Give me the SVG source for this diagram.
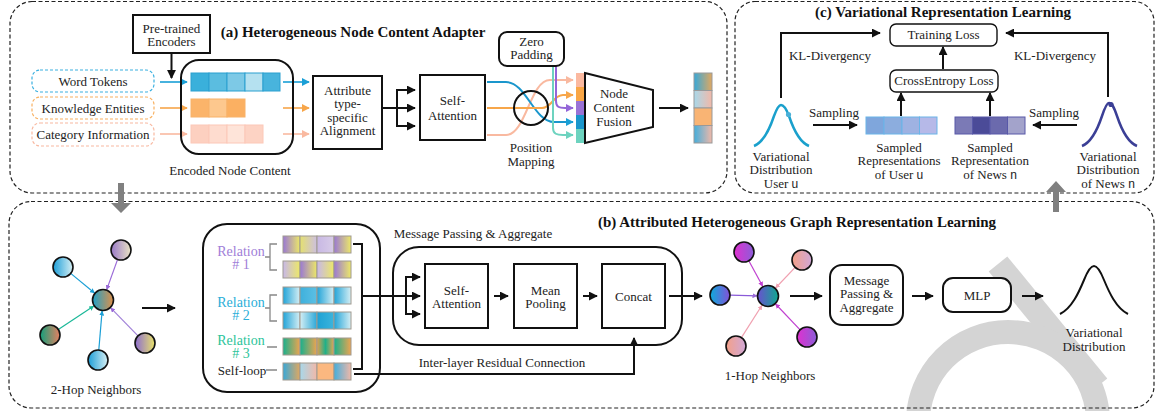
<svg xmlns="http://www.w3.org/2000/svg" width="1156" height="411" viewBox="0 0 1156 411">
<style>
.t{font-family:"Liberation Serif","Times New Roman",serif;font-size:13px;fill:#222;text-anchor:middle}
.tb{font-family:"Liberation Serif","Times New Roman",serif;font-size:15px;font-weight:bold;fill:#111;text-anchor:middle}
.m{font-family:"Liberation Sans",Arial,sans-serif;font-size:12px}
.panel{fill:none;stroke:#222;stroke-width:1.2;stroke-dasharray:4 2.5}
.box{fill:#fff;stroke:#111;stroke-width:2}
.ln{fill:none;stroke:#111;stroke-width:2}
.arr{fill:none;stroke:#111;stroke-width:2;marker-end:url(#mB)}
.cell{stroke:#a09a90;stroke-width:1}
.node{stroke:#111;stroke-width:1.6}
.wm{fill:none;stroke:#d4d4d4}
</style>
<defs>
<marker id="mB" viewBox="0 0 10 10" refX="9" refY="5" markerWidth="9" markerHeight="9" markerUnits="userSpaceOnUse" orient="auto"><path d="M0,0 L10,5 L0,10 z" fill="#111"/></marker>
<marker id="mBlue" viewBox="0 0 10 10" refX="9" refY="5" markerWidth="8" markerHeight="8" markerUnits="userSpaceOnUse" orient="auto"><path d="M0,0 L10,5 L0,10 z" fill="#1a9fd6"/></marker>
<marker id="mOr" viewBox="0 0 10 10" refX="9" refY="5" markerWidth="8" markerHeight="8" markerUnits="userSpaceOnUse" orient="auto"><path d="M0,0 L10,5 L0,10 z" fill="#f7a64a"/></marker>
<marker id="mSal" viewBox="0 0 10 10" refX="9" refY="5" markerWidth="8" markerHeight="8" markerUnits="userSpaceOnUse" orient="auto"><path d="M0,0 L10,5 L0,10 z" fill="#f9b9a0"/></marker>
<marker id="mPur" viewBox="0 0 10 10" refX="9" refY="5" markerWidth="8" markerHeight="8" markerUnits="userSpaceOnUse" orient="auto"><path d="M0,0 L10,5 L0,10 z" fill="#9466d8"/></marker>
<marker id="mTeal" viewBox="0 0 10 10" refX="9" refY="5" markerWidth="8" markerHeight="8" markerUnits="userSpaceOnUse" orient="auto"><path d="M0,0 L10,5 L0,10 z" fill="#6dd3bf"/></marker>
<marker id="sBlue" viewBox="0 0 10 10" refX="9" refY="5" markerWidth="5" markerHeight="5" markerUnits="userSpaceOnUse" orient="auto"><path d="M0,0 L10,5 L0,10 z" fill="#1a9fd6"/></marker>
<marker id="sPur" viewBox="0 0 10 10" refX="9" refY="5" markerWidth="5" markerHeight="5" markerUnits="userSpaceOnUse" orient="auto"><path d="M0,0 L10,5 L0,10 z" fill="#9a6ad8"/></marker>
<marker id="sTeal" viewBox="0 0 10 10" refX="9" refY="5" markerWidth="5" markerHeight="5" markerUnits="userSpaceOnUse" orient="auto"><path d="M0,0 L10,5 L0,10 z" fill="#1ab898"/></marker>
<marker id="sMag" viewBox="0 0 10 10" refX="9" refY="5" markerWidth="5" markerHeight="5" markerUnits="userSpaceOnUse" orient="auto"><path d="M0,0 L10,5 L0,10 z" fill="#c040d0"/></marker>
<marker id="sPink" viewBox="0 0 10 10" refX="9" refY="5" markerWidth="5" markerHeight="5" markerUnits="userSpaceOnUse" orient="auto"><path d="M0,0 L10,5 L0,10 z" fill="#f0a0b0"/></marker>
<linearGradient id="gPY"><stop offset="0" stop-color="#9a78d4"/><stop offset="1" stop-color="#ece868"/></linearGradient>
<linearGradient id="gYL"><stop offset="0" stop-color="#e4e070"/><stop offset="1" stop-color="#cdbfe0"/></linearGradient>
<linearGradient id="gLav"><stop offset="0" stop-color="#c8b8e4"/><stop offset="1" stop-color="#d8cce8"/></linearGradient>
<linearGradient id="gLY"><stop offset="0" stop-color="#c8b8e8"/><stop offset="1" stop-color="#ece868"/></linearGradient>
<linearGradient id="gBL"><stop offset="0" stop-color="#22a4d8"/><stop offset="1" stop-color="#d4eef4"/></linearGradient>
<linearGradient id="gB2"><stop offset="0" stop-color="#3eb0dc"/><stop offset="1" stop-color="#5cc0e4"/></linearGradient>
<linearGradient id="gLB"><stop offset="0" stop-color="#d4eef4"/><stop offset="1" stop-color="#2aa8d8"/></linearGradient>
<linearGradient id="gB3"><stop offset="0" stop-color="#1ea2d4"/><stop offset="1" stop-color="#3cb4dc"/></linearGradient>
<linearGradient id="gGO"><stop offset="0" stop-color="#18b08c"/><stop offset="1" stop-color="#eea450"/></linearGradient>
<linearGradient id="gOG"><stop offset="0" stop-color="#e0a050"/><stop offset="0.5" stop-color="#20b088"/><stop offset="1" stop-color="#e8a452"/></linearGradient>
<linearGradient id="gBO"><stop offset="0" stop-color="#38a8d8"/><stop offset="1" stop-color="#e0a860"/></linearGradient>
<linearGradient id="gLS"><stop offset="0" stop-color="#a8d8ea"/><stop offset="1" stop-color="#f2b8a8"/></linearGradient>
<linearGradient id="gBS"><stop offset="0" stop-color="#44aedc"/><stop offset="1" stop-color="#f0b8a8"/></linearGradient>
<linearGradient id="nBT"><stop offset="0" stop-color="#1c9ed8"/><stop offset="1" stop-color="#d8f0f4"/></linearGradient>
<linearGradient id="nPB"><stop offset="0" stop-color="#9878c8"/><stop offset="1" stop-color="#ebe4c4"/></linearGradient>
<linearGradient id="nGS"><stop offset="0" stop-color="#12a07c"/><stop offset="1" stop-color="#e88060"/></linearGradient>
<linearGradient id="nPY"><stop offset="0" stop-color="#8c6cd0"/><stop offset="1" stop-color="#eae46a"/></linearGradient>
<linearGradient id="nC2"><stop offset="0" stop-color="#1ea0c8"/><stop offset="1" stop-color="#e09048"/></linearGradient>
<linearGradient id="nMP"><stop offset="0" stop-color="#e030d0"/><stop offset="1" stop-color="#8a5ed8"/></linearGradient>
<linearGradient id="nSP"><stop offset="0" stop-color="#f4a088"/><stop offset="1" stop-color="#d0a8d8"/></linearGradient>
<linearGradient id="nBP"><stop offset="0" stop-color="#0cacdc"/><stop offset="1" stop-color="#8450d8"/></linearGradient>
<linearGradient id="nC1"><stop offset="0" stop-color="#6a50d0"/><stop offset="1" stop-color="#0eaa8e"/></linearGradient>
</defs>
<rect width="1156" height="411" fill="#fff"/>

<g id="watermark">
<path class="wm" stroke-width="24" d="M998,264 L1098,386"/>
<circle class="wm" stroke-width="24" cx="1008" cy="422" r="90"/>
</g>

<g id="panels">
<rect class="panel" x="10" y="1.5" width="717" height="191.5" rx="22"/>
<rect class="panel" x="735" y="1.5" width="419" height="191.5" rx="20"/>
<rect class="panel" x="9" y="201.5" width="1145" height="206.5" rx="22"/>
<text class="tb" x="353" y="37">(a) Heterogeneous Node Content Adapter</text>
<text class="tb" x="943" y="17">(c) Variational Representation Learning</text>
<text class="tb" x="797" y="227">(b) Attributed Heterogeneous Graph Representation Learning</text>
<path d="M118,183 H124 V203 H131 L121,213 L111,203 H118 Z" fill="#808080"/>
<path d="M1053,212 H1059 V192 H1066 L1056,181 L1046,192 H1053 Z" fill="#808080"/>
</g>

<g id="connectors">
<path class="arr" d="M171.5,53 V78"/>
<path d="M160,82 H187" stroke="#1a9fd6" stroke-width="1.6" marker-end="url(#mBlue)"/>
<path d="M160,108 H187" stroke="#f7a64a" stroke-width="1.6" marker-end="url(#mOr)"/>
<path d="M160,134 H187" stroke="#f9b9a0" stroke-width="1.6" marker-end="url(#mSal)"/>
<path d="M283,82 H309" stroke="#1a9fd6" stroke-width="1.6" marker-end="url(#mBlue)"/>
<path d="M283,108 H309" stroke="#f7a64a" stroke-width="1.6" marker-end="url(#mOr)"/>
<path d="M283,134 H309" stroke="#f9b9a0" stroke-width="1.6" marker-end="url(#mSal)"/>
<path class="ln" d="M382,108 H397 M397,90 V126"/>
<path class="arr" d="M396,90 H415"/>
<path class="arr" d="M396,108 H415"/>
<path class="arr" d="M396,126 H415"/>
<path d="M487,135 H506 C526,135 530,80 550,80 H573" fill="none" stroke="#f9b9a0" stroke-width="2" marker-end="url(#mSal)"/>
<path d="M487,82 H506 C526,82 534,122 554,122 H573" fill="none" stroke="#1a96cc" stroke-width="2" marker-end="url(#mBlue)"/>
<path d="M487,108 H542 C552,108 553,95 563,95 H573" fill="none" stroke="#f7a64a" stroke-width="2" marker-end="url(#mOr)"/>
<path d="M553,66 V128 C553,134 557,135 563,135 H573" fill="none" stroke="#6dd3bf" stroke-width="2" marker-end="url(#mTeal)"/>
<path d="M556,66 V101 C556,107 559,108 565,108 H573" fill="none" stroke="#9466d8" stroke-width="2" marker-end="url(#mPur)"/>
<circle cx="531" cy="108" r="17" fill="none" stroke="#111" stroke-width="2"/>
<path class="arr" d="M659,108 H688"/>

<path class="ln" d="M781,98 V33 H880" marker-end="url(#mB)"/>
<path class="ln" d="M1108,97 V33 H1006" marker-end="url(#mB)"/>
<path class="arr" d="M943,69 V47"/>
<path class="arr" d="M901,116 V93"/>
<path class="arr" d="M990,116 V93"/>
<path class="arr" d="M813,125 H857"/>
<path class="arr" d="M1077,125 H1033"/>

<path d="M70.7,273.4 L94.5,293" stroke="#1a9fd6" stroke-width="1.2" marker-end="url(#sBlue)"/>
<path d="M117.6,259.4 L106.7,289.6" stroke="#9a6ad8" stroke-width="1.2" marker-end="url(#sPur)"/>
<path d="M58.3,329.5 L93.8,306.1" stroke="#1ab898" stroke-width="1.2" marker-end="url(#sTeal)"/>
<path d="M98.8,350 L102.1,311" stroke="#1a9fd6" stroke-width="1.2" marker-end="url(#sBlue)"/>
<path d="M138,335.8 L110.7,307.9" stroke="#a080d8" stroke-width="1.2" marker-end="url(#sPur)"/>
<path class="arr" d="M142,308 H175"/>
<path d="M277,244 H270 V270 H277 M270,257 H265 M277,295 H270 V321 H277 M270,308 H265 M267,347 H277 M266,370 H277" fill="none" stroke="#888" stroke-width="1.3"/>
<path class="ln" d="M353,244 H362 V369 H353 M362,296 H406 M406,277 V314"/>
<path class="arr" d="M405,277 H420"/>
<path class="arr" d="M405,296 H420"/>
<path class="arr" d="M405,314 H420"/>
<path class="arr" d="M494,296 H508"/>
<path class="arr" d="M583,296 H597"/>
<path class="ln" d="M354,374 H634 V338" marker-end="url(#mB)"/>
<path class="arr" d="M669,296 H702"/>
<path d="M748.8,260.8 L762.7,286.3" stroke="#c040d0" stroke-width="1.2" marker-end="url(#sMag)"/>
<path d="M795.1,267.3 L775.6,288" stroke="#f0a0b0" stroke-width="1.2" marker-end="url(#sPink)"/>
<path d="M730,295.2 L757,295.8" stroke="#8a5ad8" stroke-width="1.2" marker-end="url(#sPur)"/>
<path d="M741.4,337.6 L762,305.3" stroke="#f0a0b0" stroke-width="1.2" marker-end="url(#sPink)"/>
<path d="M800.1,329.8 L775.6,304" stroke="#c040d0" stroke-width="1.2" marker-end="url(#sMag)"/>
<path class="arr" d="M790,296 H822"/>
<path class="arr" d="M912,296 H933"/>
<path class="arr" d="M1022,296 H1043"/>
</g>

<g id="pretrained">
<rect class="box" x="133" y="15" width="77" height="38"/>
<text class="t" x="171.5" y="32.5">Pre-trained</text>
<text class="t" x="171.5" y="45.5">Encoders</text>
</g>
<g id="word-tokens">
<rect x="32" y="70" width="122" height="22" rx="8" fill="#fff" stroke="#3ab0e0" stroke-width="1.2" stroke-dasharray="3 2"/>
<text class="t" x="93" y="85.5">Word Tokens</text>
</g>
<g id="knowledge-entities">
<rect x="32" y="97" width="122" height="22" rx="8" fill="#fff" stroke="#f8b060" stroke-width="1.2" stroke-dasharray="3 2"/>
<text class="t" x="93" y="112.5">Knowledge Entities</text>
</g>
<g id="category-information">
<rect x="32" y="123" width="122" height="23" rx="8" fill="#fff" stroke="#f8b8a0" stroke-width="1.2" stroke-dasharray="3 2"/>
<text class="t" x="93" y="138.5">Category Information</text>
</g>
<g id="encoded-node-content">
<rect class="ln" x="181" y="60" width="112" height="94" rx="18"/>
<g stroke="#2aa0d0" stroke-width="1">
<rect x="191" y="73" width="18" height="18" fill="#3ab0db"/>
<rect x="209" y="73" width="18" height="18" fill="#5bbde0"/>
<rect x="227" y="73" width="18" height="18" fill="#7dc9e6"/>
<rect x="245" y="73" width="18" height="18" fill="#b5e1f0"/>
<rect x="263" y="73" width="17" height="18" fill="#48b4dd"/>
</g>
<g stroke="#f8b268" stroke-width="1">
<rect x="191" y="99" width="18" height="18" fill="#fbb46a"/>
<rect x="209" y="99" width="18" height="18" fill="#fdc88e"/>
<rect x="227" y="99" width="18" height="18" fill="#fbb062"/>
</g>
<g stroke="#fcc8b8" stroke-width="1">
<rect x="191" y="125" width="18" height="18" fill="#fdd0c0"/>
<rect x="209" y="125" width="18" height="18" fill="#fedccf"/>
<rect x="227" y="125" width="18" height="18" fill="#fee4d9"/>
<rect x="245" y="125" width="18" height="18" fill="#fdd3c4"/>
</g>
<text class="t" x="230" y="174.5">Encoded Node Content</text>
</g>
<g id="alignment">
<rect class="box" x="313" y="76" width="69" height="73"/>
<text class="t" x="347.5" y="94.5">Attribute</text>
<text class="t" x="347.5" y="107.5">type-</text>
<text class="t" x="347.5" y="121.5">specific</text>
<text class="t" x="347.5" y="134.5">Alignment</text>
</g>
<g id="self-attention-a">
<rect class="box" x="420" y="75" width="65" height="65"/>
<text class="t" x="452.5" y="104.5">Self-</text>
<text class="t" x="452.5" y="119.5">Attention</text>
</g>
<g id="zero-padding">
<rect class="box" x="499" y="32" width="65" height="34" rx="8"/>
<text class="t" x="531.5" y="45.5">Zero</text>
<text class="t" x="531.5" y="58.5">Padding</text>
</g>
<g id="position-mapping">
<text class="t" x="531" y="151.5">Position</text>
<text class="t" x="531" y="165.5">Mapping</text>
<rect x="576" y="73" width="8" height="14" fill="#fbb9a0"/>
<rect x="576" y="87" width="8" height="14" fill="#f9a645"/>
<rect x="576" y="101" width="8" height="14" fill="#9a72d6"/>
<rect x="576" y="115" width="8" height="14" fill="#1a96cc"/>
<rect x="576" y="129" width="8" height="14" fill="#6dd3bf"/>
</g>
<g id="node-content-fusion">
<path d="M585,73 L653,90 L653,127 L585,143 Z" fill="#fff" stroke="#111" stroke-width="2"/>
<text class="t" x="614" y="97.5">Node</text>
<text class="t" x="614" y="111.5">Content</text>
<text class="t" x="614" y="125.5">Fusion</text>
</g>
<g id="fused-output" stroke="#999" stroke-width="1">
<rect x="694" y="73" width="18" height="17.5" fill="url(#gBO)"/>
<rect x="694" y="90.5" width="18" height="17.5" fill="url(#gLS)"/>
<rect x="694" y="108" width="18" height="17.5" fill="#f9b474"/>
<rect x="694" y="125.5" width="18" height="17.5" fill="url(#gBS)"/>
</g>

<g id="training-loss">
<rect x="890" y="24" width="107" height="22" rx="6" fill="#fff" stroke="#111" stroke-width="1.4"/>
<text class="t" x="943.5" y="39">Training Loss</text>
</g>
<g id="crossentropy-loss">
<rect x="890" y="70" width="108" height="22" rx="6" fill="#fff" stroke="#111" stroke-width="1.4"/>
<text class="t" x="944" y="85">CrossEntropy Loss</text>
</g>
<g id="kl-labels">
<text class="t" x="830" y="59.5">KL-Divergency</text>
<text class="t" x="1055" y="59.5">KL-Divergency</text>
<text class="t" x="834" y="116.5">Sampling</text>
<text class="t" x="1054" y="116.5">Sampling</text>
</g>
<g id="dist-user">
<path d="M754,146 C764,142 770,128 774,116 C777,108 779,105 781,105 C784,105 786,108 789,116 C793,128 799,142 809,146" fill="none" stroke="#1aa0cc" stroke-width="2.5"/>
<circle cx="788.5" cy="114.5" r="2.6" fill="#4ab0d8"/>
<text class="t" x="781" y="160.5">Variational</text>
<text class="t" x="781" y="173.5">Distribution</text>
<text class="t" x="781" y="187.5">User <tspan class="m">u</tspan></text>
</g>
<g id="sampled-user">
<g stroke="#6ab4e8" stroke-width="1">
<rect x="866" y="117" width="18" height="17" fill="#7fa6dc"/>
<rect x="884" y="117" width="18" height="17" fill="#8cadde"/>
<rect x="902" y="117" width="17.5" height="17" fill="#9fb2e2"/>
<rect x="919.5" y="117" width="17.5" height="17" fill="#b6b9e8"/>
</g>
<text class="t" x="899" y="151.5">Sampled</text>
<text class="t" x="899" y="164.5">Representations</text>
<text class="t" x="899" y="178.5">of User <tspan class="m">u</tspan></text>
</g>
<g id="sampled-news">
<g stroke="#5858a8" stroke-width="1">
<rect x="955" y="117" width="17.5" height="17" fill="#7b7ab6"/>
<rect x="972.5" y="117" width="17.5" height="17" fill="#4b4b98"/>
<rect x="990" y="117" width="17.5" height="17" fill="#6b6aad"/>
<rect x="1007.5" y="117" width="17.5" height="17" fill="#a3a3cb"/>
</g>
<text class="t" x="990" y="151.5">Sampled</text>
<text class="t" x="990" y="164.5">Representation</text>
<text class="t" x="990" y="178.5">of News <tspan class="m">n</tspan></text>
</g>
<g id="dist-news">
<path d="M1082,146 C1092,142 1098,128 1102,116 C1105,107 1107,103 1109,103 C1112,103 1114,107 1117,116 C1121,128 1127,142 1137,146" fill="none" stroke="#3b3f96" stroke-width="2.5"/>
<circle cx="1111" cy="104.5" r="2.6" fill="#3b3f96"/>
<text class="t" x="1108" y="160.5">Variational</text>
<text class="t" x="1108" y="173.5">Distribution</text>
<text class="t" x="1108" y="187.5">of News <tspan class="m">n</tspan></text>
</g>

<g id="two-hop">
<circle class="node" cx="63" cy="267" r="10" fill="url(#nBT)"/>
<circle class="node" cx="121" cy="250" r="10" fill="url(#nPB)"/>
<circle class="node" cx="50" cy="335" r="10" fill="url(#nGS)"/>
<circle class="node" cx="98" cy="360" r="10" fill="url(#nBT)"/>
<circle class="node" cx="145" cy="343" r="10" fill="url(#nPY)"/>
<circle class="node" cx="103" cy="300" r="10.5" fill="url(#nC2)"/>
<text class="t" x="96" y="393.5">2-Hop Neighbors</text>
</g>
<g id="relations">
<rect class="ln" x="203" y="224" width="177" height="168" rx="24"/>
<g class="cell">
<rect x="283" y="236" width="17" height="17" fill="url(#gPY)"/>
<rect x="300" y="236" width="17" height="17" fill="url(#gYL)"/>
<rect x="317" y="236" width="17" height="17" fill="url(#gLav)"/>
<rect x="334" y="236" width="17" height="17" fill="url(#gPY)"/>
<rect x="283" y="261" width="17" height="17" fill="url(#gLY)"/>
<rect x="300" y="261" width="17" height="17" fill="url(#gPY)"/>
<rect x="317" y="261" width="17" height="17" fill="url(#gLY)"/>
<rect x="334" y="261" width="17" height="17" fill="url(#gPY)"/>
<rect x="283" y="287" width="17" height="17" fill="url(#gBL)"/>
<rect x="300" y="287" width="17" height="17" fill="url(#gB2)"/>
<rect x="317" y="287" width="17" height="17" fill="url(#gBL)"/>
<rect x="334" y="287" width="17" height="17" fill="url(#gBL)"/>
<rect x="283" y="312" width="17" height="17" fill="url(#gBL)"/>
<rect x="300" y="312" width="17" height="17" fill="url(#gLB)"/>
<rect x="317" y="312" width="17" height="17" fill="url(#gB3)"/>
<rect x="334" y="312" width="17" height="17" fill="url(#gBL)"/>
<rect x="283" y="338" width="17" height="17" fill="url(#gGO)"/>
<rect x="300" y="338" width="17" height="17" fill="url(#gGO)"/>
<rect x="317" y="338" width="17" height="17" fill="url(#gOG)"/>
<rect x="334" y="338" width="17" height="17" fill="url(#gGO)"/>
<rect x="283" y="363" width="17" height="17" fill="url(#gBO)"/>
<rect x="300" y="363" width="17" height="17" fill="url(#gLS)"/>
<rect x="317" y="363" width="17" height="17" fill="#fbb880"/>
<rect x="334" y="363" width="17" height="17" fill="url(#gBS)"/>
</g>
<text class="t" x="241" y="255.5" style="fill:#a07ed8;font-size:14px">Relation</text>
<text class="t" x="241" y="269" style="fill:#a07ed8;font-size:14px"># 1</text>
<text class="t" x="241" y="306.5" style="fill:#2aaed8;font-size:14px">Relation</text>
<text class="t" x="241" y="320" style="fill:#2aaed8;font-size:14px"># 2</text>
<text class="t" x="241" y="344.5" style="fill:#2cc49a;font-size:14px">Relation</text>
<text class="t" x="241" y="358" style="fill:#2cc49a;font-size:14px"># 3</text>
<text class="t" x="242" y="374.5">Self-loop</text>
</g>
<g id="message-passing">
<rect class="ln" x="393" y="247" width="289" height="98" rx="26"/>
<text class="t" x="473" y="237.5">Message Passing &amp; Aggregate</text>
</g>
<g id="self-attention-b">
<rect class="box" x="425" y="264" width="63" height="64"/>
<text class="t" x="456.5" y="294.5">Self-</text>
<text class="t" x="456.5" y="307.5">Attention</text>
</g>
<g id="mean-pooling">
<rect class="box" x="514" y="264" width="63" height="64"/>
<text class="t" x="545.5" y="294.5">Mean</text>
<text class="t" x="545.5" y="307.5">Pooling</text>
</g>
<g id="concat">
<rect class="box" x="602" y="264" width="63" height="64"/>
<text class="t" x="633.5" y="301">Concat</text>
</g>
<text class="t" x="502" y="366.5">Inter-layer Residual Connection</text>
<g id="one-hop">
<circle class="node" cx="744" cy="252" r="10" fill="url(#nMP)"/>
<circle class="node" cx="802" cy="260" r="10" fill="url(#nSP)"/>
<circle class="node" cx="720" cy="295" r="10" fill="url(#nBP)"/>
<circle class="node" cx="736" cy="346" r="10" fill="url(#nSP)"/>
<circle class="node" cx="807" cy="337" r="10" fill="url(#nMP)"/>
<circle class="node" cx="768" cy="296" r="10.5" fill="url(#nC1)"/>
<text class="t" x="770" y="379.5">1-Hop Neighbors</text>
</g>
<g id="mp-aggregate">
<rect class="box" x="830" y="265" width="73" height="60" rx="12"/>
<text class="t" x="866.5" y="284.5">Message</text>
<text class="t" x="866.5" y="298">Passing &amp;</text>
<text class="t" x="866.5" y="311.5">Aggregate</text>
</g>
<g id="mlp">
<rect class="box" x="943" y="278" width="68" height="34" rx="10"/>
<text class="t" x="977" y="299.5">MLP</text>
</g>
<g id="variational-distribution">
<path d="M1060,314 C1072,308 1079,292 1084,280 C1088,270 1091,266 1094,266 C1097,266 1100,270 1104,280 C1109,292 1116,308 1128,314" fill="none" stroke="#111" stroke-width="2"/>
<text class="t" x="1094" y="336.5">Variational</text>
<text class="t" x="1094" y="350.5">Distribution</text>
</g>
</svg>
